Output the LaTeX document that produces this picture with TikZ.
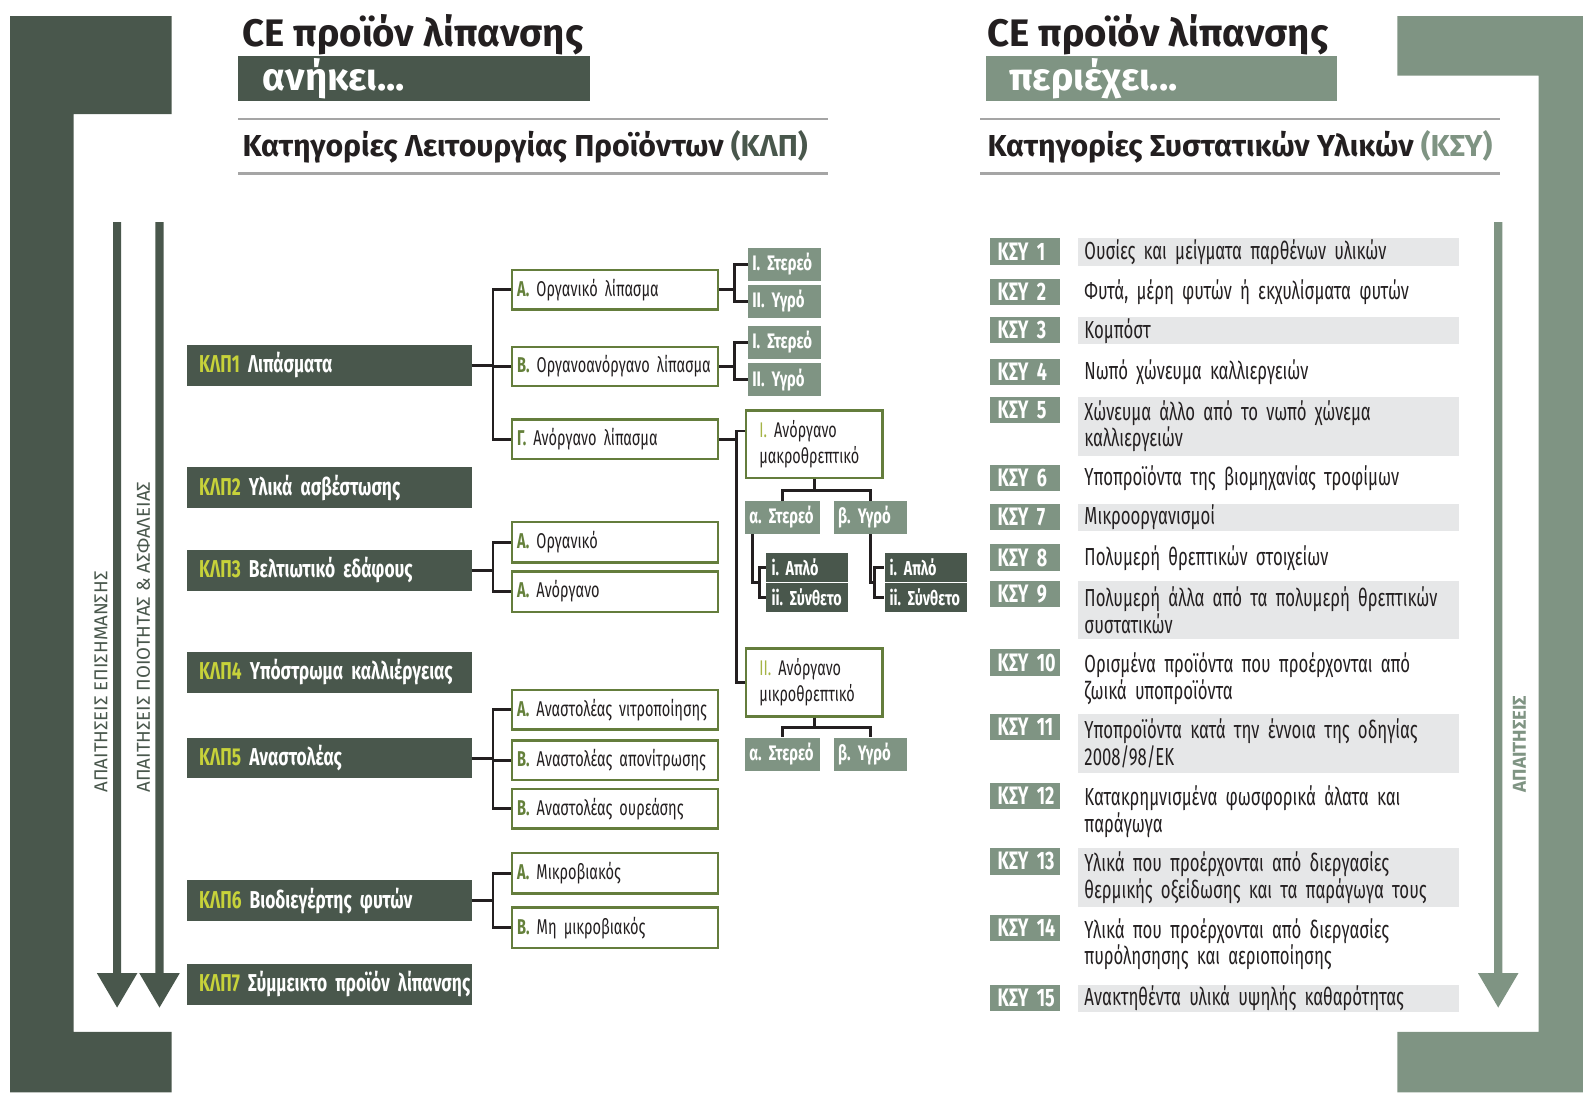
\documentclass[tikz,border=0pt]{standalone}
\usepackage{fontspec}
\setmainfont{Fira Sans}
\newfontfamily\condf{Fira Sans}[FakeStretch=0.68]
\newfontfamily\condbf{Fira Sans}[FakeStretch=0.71]
\newfontfamily\headf{Fira Sans}

\definecolor{darkgr}{RGB}{73,87,76}
\definecolor{lightgr}{RGB}{127,148,131}
\definecolor{bord}{RGB}{100,125,60}
\definecolor{letg}{RGB}{100,128,58}
\definecolor{yelg}{RGB}{165,180,70}
\definecolor{yel}{RGB}{199,210,58}
\definecolor{listbg}{RGB}{230,231,232}
\definecolor{rulegr}{RGB}{165,165,165}
\definecolor{ink}{RGB}{35,31,32}

\newcommand\klpl[2]{\mbox{\textcolor{yel}{ΚΛΠ#1} #2}}
\newcommand\lett[1]{\textcolor{letg}{\bfseries #1}}

\tikzset{
  conn/.style={draw=ink, line width=2.7pt},
  rule/.style={draw=rulegr, line width=2.6pt},
  head/.style={anchor=base west, inner sep=0pt, text=ink,
    font=\headf\bfseries\fontsize{38}{42}\selectfont},
  tagline/.style={anchor=west, minimum height=39pt, text width=300pt,
    inner xsep=24pt, inner ysep=2pt, align=left, text=white,
    font=\headf\bfseries\fontsize{38}{40}\selectfont},
  subhead/.style={anchor=west, inner sep=0pt, text=ink,
    font=\headf\bfseries\fontsize{30}{34}\selectfont},
  klp/.style={anchor=west, fill=darkgr, text=white, minimum height=40pt,
    text width=258pt, inner xsep=12pt, inner ysep=2pt, align=left,
    font=\condbf\bfseries\fontsize{24.2}{27}\selectfont},
  subbox/.style={anchor=west, draw=bord, line width=2.4pt, fill=white,
    text=ink, minimum height=39pt, text width=194pt, inner xsep=5pt,
    inner ysep=2pt, align=left, font=\condf\fontsize{21.2}{24}\selectfont},
  macro/.style={anchor=west, draw=bord, line width=2.4pt, fill=white,
    text=ink, minimum height=67pt, text width=109pt, inner xsep=13pt,
    inner ysep=2pt, align=left, font=\condf\fontsize{21}{26}\selectfont},
  leaf/.style={anchor=west, fill=lightgr, text=white, minimum height=33pt,
    text width=64pt, inner xsep=4pt, inner ysep=1pt, align=left,
    font=\condbf\bfseries\fontsize{20.8}{22}\selectfont},
  twig/.style={anchor=west, fill=darkgr, text=white, minimum height=29pt,
    text width=72pt, inner xsep=5pt, inner ysep=1pt, align=left,
    font=\condbf\bfseries\fontsize{20}{21}\selectfont},
  ksytag/.style={anchor=north west, fill=lightgr, text=white,
    minimum height=26pt, text width=54pt, inner xsep=8pt, inner ysep=1pt,
    align=left, font=\condbf\bfseries\fontsize{25}{26}\selectfont},
  ksytxt/.style={anchor=north west, text=ink, text width=365pt,
    inner xsep=6pt, inner ysep=0pt, align=left,
    font=\condf\fontsize{24.4}{26.5}\selectfont},
  req/.style={rotate=90, anchor=west, inner sep=0pt,
    font=\headf\fontsize{18.5}{22}\selectfont}
}

\begin{document}
\begin{tikzpicture}[x=1pt,y=-1pt]
\useasboundingbox (0,0) rectangle (1568,1082);

% side frames
\fill[darkgr] (10,16) -- (170,16) -- (170,113) -- (73,113) -- (73,1022)
  -- (170,1022) -- (170,1082) -- (10,1082) -- cycle;
\fill[lightgr] (1568,16) -- (1384,16) -- (1384,75) -- (1524,75)
  -- (1524,1022) -- (1384,1022) -- (1384,1082) -- (1568,1082) -- cycle;

% headings
\node[head] (ttl1) at (240,46) {CE προϊόν λίπανσης};
\node[tagline, fill=darkgr] (belong) at (236,77.5) {ανήκει...};
\draw[rule] (236,118) -- (820,118) (236,172) -- (820,172);
\node[subhead] (klphead) at (240,145)
  {Κατηγορίες Λειτουργίας Προϊόντων \textcolor{darkgr}{(ΚΛΠ)}};

\node[head] (ttl2) at (978,46) {CE προϊόν λίπανσης};
\node[tagline, fill=lightgr] (contain) at (976,77.5) {περιέχει...};
\draw[rule] (971,118) -- (1486,118) (971,172) -- (1486,172);
\node[subhead] (ksyhead) at (978,145)
  {Κατηγορίες Συστατικών Υλικών \textcolor{lightgr}{(ΚΣΥ)}};

% requirement arrows
\foreach \ax in {116,158}
  \fill[darkgr] (\ax-4,220) -- (\ax+4,220) -- (\ax+4,964) -- (\ax+20,964)
    -- (\ax,998) -- (\ax-20,964) -- (\ax-4,964) -- cycle;
\fill[lightgr] (1480,220) -- (1488,220) -- (1488,964) -- (1504,964)
  -- (1484,998) -- (1464,964) -- (1480,964) -- cycle;
\node[req, text=darkgr] (reqlab) at (100,785) {ΑΠΑΙΤΗΣΕΙΣ ΕΠΙΣΗΜΑΝΣΗΣ};
\node[req, text=darkgr] (reqqs) at (142,785) {ΑΠΑΙΤΗΣΕΙΣ ΠΟΙΟΤΗΤΑΣ \& ΑΣΦΑΛΕΙΑΣ};
\node[req, text=lightgr, font=\headf\bfseries\fontsize{18.5}{20}\selectfont]
  (reqksy) at (1505,785) {ΑΠΑΙΤΗΣΕΙΣ};

% KLP categories
\node[klp] (klp1) at (185,362) {\klpl{1}{Λιπάσματα}};
\node[klp] (klp2) at (185,483) {\klpl{2}{Υλικά ασβέστωσης}};
\node[klp] (klp3) at (185,565) {\klpl{3}{Βελτιωτικό εδάφους}};
\node[klp] (klp4) at (185,666) {\klpl{4}{Υπόστρωμα καλλιέργειας}};
\node[klp] (klp5) at (185,751) {\klpl{5}{Αναστολέας}};
\node[klp] (klp6) at (185,892) {\klpl{6}{Βιοδιεγέρτης φυτών}};
\node[klp] (klp7) at (185,975) {\klpl{7}{Σύμμεικτο προϊόν λίπανσης}};

% sub-categories
\node[subbox] (oa) at (506,287) {\lett{Α.} Οργανικό λίπασμα};
\node[subbox] (ob) at (506,363) {\lett{Β.} Οργανοανόργανο λίπασμα};
\node[subbox] (oc) at (506,435) {\lett{Γ.} Ανόργανο λίπασμα};
\node[subbox, minimum height=40pt] (sa) at (506,537) {\lett{Α.} Οργανικό};
\node[subbox, minimum height=40pt] (sb) at (506,586) {\lett{Α.} Ανόργανο};
\node[subbox] (na) at (506,703) {\lett{Α.} Αναστολέας νιτροποίησης};
\node[subbox] (nb) at (506,753) {\lett{Β.} Αναστολέας απονίτρωσης};
\node[subbox] (nc) at (506,801) {\lett{Β.} Αναστολέας ουρεάσης};
\node[subbox, minimum height=40pt] (ba) at (506,865) {\lett{Α.} Μικροβιακός};
\node[subbox, minimum height=40pt] (bb) at (506,919) {\lett{Β.} Μη μικροβιακός};

\foreach \c in {oa,ob,oc} \draw[conn] (klp1.east) -- +(21,0) |- (\c.west);
\foreach \c in {sa,sb} \draw[conn] (klp3.east) -- +(21,0) |- (\c.west);
\foreach \c in {na,nb,nc} \draw[conn] (klp5.east) -- +(21,0) |- (\c.west);
\foreach \c in {ba,bb} \draw[conn] (klp6.east) -- +(21,0) |- (\c.west);

% physical form
\node[leaf] (st1) at (741,262) {I.~Στερεό};
\node[leaf] (yg1) at (741,298.5) {II.~Υγρό};
\node[leaf] (st2) at (741,339) {I.~Στερεό};
\node[leaf] (yg2) at (741,376) {II.~Υγρό};
\foreach \c in {st1,yg1} \draw[conn] (oa.east) -- +(15,0) |- (\c.west);
\foreach \c in {st2,yg2} \draw[conn] (ob.east) -- +(15,0) |- (\c.west);

% inorganic fertiliser
\node[macro] (m1) at (738,440) {\textcolor{yelg}{I.} Ανόργανο\\μακροθρεπτικό};
\node[macro] (m2) at (738,676) {\textcolor{yelg}{II.} Ανόργανο\\μικροθρεπτικό};
\draw[conn] (oc.east) -- +(17,0) |- ([yshift=13pt]m1.west);
\draw[conn] (oc.east) -- +(17,0) |- (m2.west);

\node[leaf, text width=66pt] (al1) at (738,512.5) {α.~Στερεό};
\node[leaf] (be1) at (826,512.5) {β.~Υγρό};
\node[leaf, text width=66pt] (al2) at (738,747) {α.~Στερεό};
\node[leaf] (be2) at (826,747) {β.~Υγρό};
\foreach \c in {al1,be1} \draw[conn] (m1.south) -- +(0,11) -| (\c.north);
\foreach \c in {al2,be2} \draw[conn] (m2.south) -- +(0,10) -| (\c.north);

\node[twig, text width=71pt] (s1) at (759,562) {i.~Απλό};
\node[twig, text width=71pt] (c1) at (759,592) {ii.~Σύνθετο};
\node[twig] (s2) at (876,562) {i.~Απλό};
\node[twig] (c2) at (876,592) {ii.~Σύνθετο};
\coordinate (aj1) at (752,577);
\coordinate (aj2) at (866,577);
\draw[conn] ([xshift=7pt]al1.south west) |- (aj1);
\draw[conn] (be1.south) |- (aj2);
\foreach \c in {s1,c1} \draw[conn] (aj1) |- (\c.west);
\foreach \c in {s2,c2} \draw[conn] (aj2) |- (\c.west);

% KSY list
\foreach \ty/\num/\bg/\hgt/\txt in {
  236/1/listbg/27/{Ουσίες και μείγματα παρθένων υλικών},
  276/2/white/27/{Φυτά, μέρη φυτών ή εκχυλίσματα φυτών},
  314/3/listbg/27/{Κομπόστ},
  355/4/white/27/{Νωπό χώνευμα καλλιεργειών},
  393/5/listbg/58/{Χώνευμα άλλο από το νωπό χώνεμα\\καλλιεργειών},
  460/6/white/27/{Υποπροϊόντα της βιομηχανίας τροφίμων},
  499/7/listbg/27/{Μικροοργανισμοί},
  539/8/white/27/{Πολυμερή θρεπτικών στοιχείων},
  575/9/listbg/58/{Πολυμερή άλλα από τα πολυμερή θρεπτικών\\συστατικών},
  643/10/white/58/{Ορισμένα προϊόντα που προέρχονται από\\ζωικά υποπροϊόντα},
  707/11/listbg/58/{Υποπροϊόντα κατά την έννοια της οδηγίας\\2008/98/ΕΚ},
  775/12/white/58/{Κατακρημνισμένα φωσφορικά άλατα και\\παράγωγα},
  840/13/listbg/58/{Υλικά που προέρχονται από διεργασίες\\θερμικής οξείδωσης και τα παράγωγα τους},
  906/14/white/58/{Υλικά που προέρχονται από διεργασίες\\πυρόλησησης και αεριοποίησης},
  975/15/listbg/27/{Ανακτηθέντα υλικά υψηλής καθαρότητας}}
{
  \node[ksytag] (k\num) at (980,\ty) {ΚΣΥ~\num};
  \node[ksytxt, fill=\bg, minimum height=\hgt pt] (t\num) at (1068,\ty) {\txt};
}
\end{tikzpicture}
\end{document}
